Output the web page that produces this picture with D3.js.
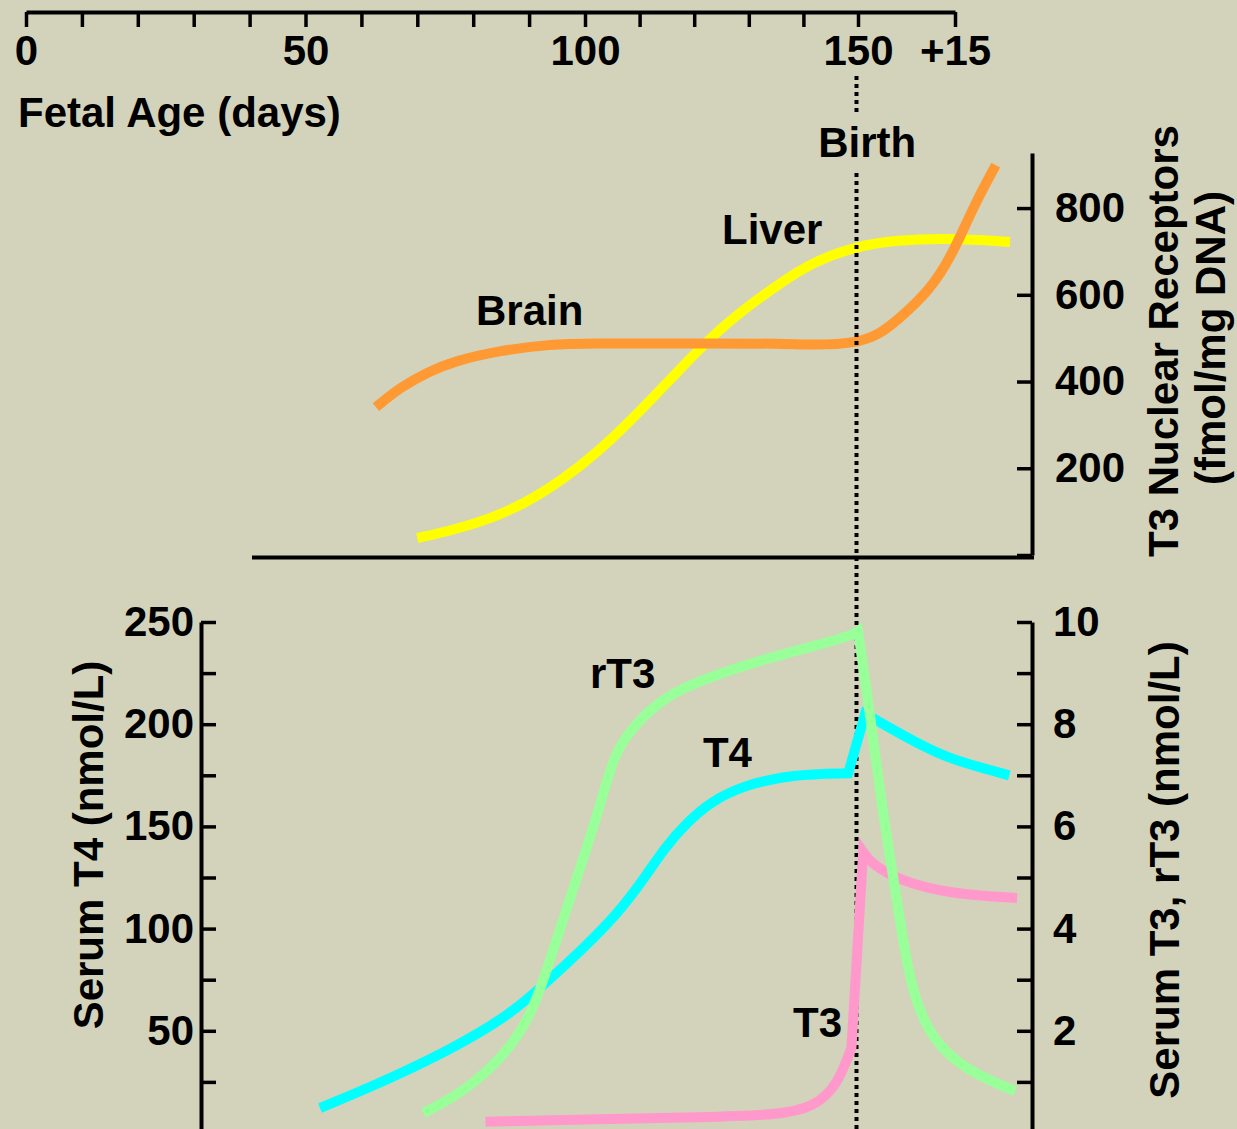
<!DOCTYPE html>
<html>
<head>
<meta charset="utf-8">
<script src="https://cdn.jsdelivr.net/npm/d3@7"></script>
<style>
  html, body { margin: 0; padding: 0; background: #d3d3bb; }
  svg { display: block; }
  text { font-family: "Liberation Sans", Arial, Helvetica, sans-serif; font-weight: bold; fill: #000; }
</style>
</head>
<body>
<svg id="chart" width="1237" height="1129"></svg>
<script>
// ---- Axis ticks ----
// Fetal age in days; 165 marks 15 days after birth (day 150)
const ageTicks = [0, 10, 20, 30, 40, 50, 60, 70, 80, 90, 100, 110, 120, 130, 140, 150, 165];
const ageTickLabels = new Map([[0, "0"], [50, "50"], [100, "100"], [150, "150"], [165, "+15"]]);
const receptorTicks = [0, 200, 400, 600, 800];
const t4Ticks = [25, 50, 75, 100, 125, 150, 175, 200, 225, 250];
const t4TickLabels = [50, 100, 150, 200, 250];
const t3Ticks = [1, 2, 3, 4, 5, 6, 7, 8, 9, 10];
const t3TickLabels = [2, 4, 6, 8, 10];

// ---- Series: [age (days), value] ----
// T3 nuclear receptors, fmol/mg DNA
const liverReceptors = [[70.0, 39], [76.6, 58], [83.3, 85], [89.4, 120], [95.8, 172], [102.2, 235],
  [110.0, 330], [116.7, 420], [125.8, 537], [135.7, 627], [141.8, 676], [149.6, 712], [156.0, 726],
  [163.8, 731], [173.5, 722]];
const brainReceptors = [[62.6, 341], [67.0, 387], [71.9, 422], [76.6, 447], [84.8, 472], [94.0, 486],
  [100.2, 488], [121.1, 488], [136.2, 488], [141.9, 484], [149.6, 488], [153.4, 510], [156.0, 540],
  [161.2, 611], [164.7, 696], [167.8, 802], [171.3, 899]];
// Serum T4, nmol/L
const serumT4 = [[52.6, 12.2], [63.8, 25], [75.8, 40.6], [86.0, 56.8], [92.0, 70.9], [99.6, 90],
  [105.9, 107], [110.7, 124], [114.7, 140], [118.7, 152], [123.0, 162], [128.9, 170], [138.0, 175.5],
  [148.2, 176], [151.1, 205], [153.6, 200.6], [158.8, 191.3], [164.0, 183], [173.4, 175]];
// Serum rT3, nmol/L
const serumRT3 = [[71.1, 0.39], [78.9, 0.84], [86.0, 1.57], [90.2, 2.27], [93.2, 3.19], [96.8, 4.42],
  [100.4, 5.6], [103.4, 6.65], [105.1, 7.3], [107.7, 7.83], [113.7, 8.47], [119.8, 8.81], [132.1, 9.26],
  [148.5, 9.71], [150.0, 9.82], [151.6, 8.45], [153.6, 6.46], [155.7, 4.81], [157.3, 3.48], [158.8, 2.62],
  [161.4, 1.84], [166.6, 1.23], [174.3, 0.82]];
// Serum T3, nmol/L
const serumT3 = [[82.2, 0.22], [102.7, 0.27], [121.1, 0.31], [135.7, 0.35], [141.9, 0.51], [146.2, 0.92],
  [148.8, 1.67], [150.8, 5.50], [152.0, 5.28], [156.2, 4.95], [164.1, 4.68], [174.6, 4.60]];

// Ages at which a curve turns sharply instead of smoothly
const sharpTurns = { t4: [148.2, 151.1], rt3: [150.0], t3: [148.8, 150.8] };

const birthDay = 150;

// ---- Layout ----
const svg = d3.select("#chart");
const x = d3.scaleLinear().domain([0, 100, 150, 165]).range([26, 585, 858, 955]);
const yRec = d3.scaleLinear().domain([0, 927]).range([555, 153]);
const yT4 = d3.scaleLinear().domain([0, 250]).range([1133, 622]);
const yT3 = d3.scaleLinear().domain([0, 10]).range([1133, 622]);

const FONT = 42;

function styleAxis(g) {
  g.attr("font-size", null).attr("font-family", null);
  g.selectAll("text").style("font-size", FONT + "px");
  g.select(".domain").attr("stroke", "#000").attr("stroke-width", 4);
  g.selectAll(".tick line").attr("stroke", "#000").attr("stroke-width", 3.5);
}

// Top age axis
svg.append("g")
  .attr("transform", "translate(0,12)")
  .call(d3.axisBottom(x).tickValues(ageTicks).tickSize(15).tickSizeOuter(0).tickPadding(8)
    .tickFormat(d => ageTickLabels.get(d) || ""))
  .call(styleAxis);

svg.append("text").attr("x", 18).attr("y", 127).style("font-size", FONT + "px").text("Fetal Age (days)");

// ---- Curve drawing: smooth pieces joined at sharp turns ----
function curvePath(points, xs, ys, turns) {
  const line = d3.line().x(d => xs(d[0])).y(d => ys(d[1])).curve(d3.curveBasis);
  const pieces = [];
  let cur = [];
  points.forEach(p => {
    cur.push(p);
    if (turns && turns.includes(p[0])) { pieces.push(cur); cur = [p]; }
  });
  if (cur.length > 1) pieces.push(cur);
  return pieces.map((pc, i) => {
    const d = line(pc);
    return i === 0 ? d : d.slice(d.search(/[LC]/));
  }).join("");
}

function drawCurve(points, ys, color, turns) {
  svg.append("path")
    .attr("d", curvePath(points, x, ys, turns))
    .attr("fill", "none")
    .attr("stroke", color)
    .attr("stroke-width", 10)
    .attr("stroke-linejoin", "miter")
    .attr("stroke-linecap", "butt");
}

// ---- Upper panel: nuclear receptors ----
svg.append("g")
  .attr("transform", "translate(1032,0)")
  .call(d3.axisRight(yRec).tickValues(receptorTicks).tickSize(-15).tickSizeOuter(0).tickPadding(23)
    .tickFormat(d => d === 0 ? "" : d))
  .call(styleAxis);

svg.append("path")
  .attr("d", d3.line()([[252, yRec(0) + 2.5], [1034, yRec(0) + 2.5]]))
  .attr("stroke", "#000").attr("stroke-width", 4);

drawCurve(liverReceptors, yRec, "#ffff00");
drawCurve(brainReceptors, yRec, "#ff9933");

svg.append("text").attr("x", x(80.5)).attr("y", yRec(530)).style("font-size", FONT + "px").text("Brain");
svg.append("text").attr("x", x(125.1)).attr("y", yRec(717)).style("font-size", FONT + "px").text("Liver");

svg.append("text")
  .attr("transform", "translate(1178,341) rotate(-90)")
  .attr("text-anchor", "middle").style("font-size", FONT + "px")
  .text("T3 Nuclear Receptors");
svg.append("text")
  .attr("transform", "translate(1225,338) rotate(-90)")
  .attr("text-anchor", "middle").style("font-size", FONT + "px")
  .text("(fmol/mg DNA)");

// ---- Birth marker ----
svg.append("text").attr("x", x(142.7)).attr("y", 157).style("font-size", FONT + "px").text("Birth");
[[76, 113], [173, 1129]].forEach(([a, b]) => {
  svg.append("line")
    .attr("x1", x(birthDay) - 1.5).attr("x2", x(birthDay) - 1.5)
    .attr("y1", a).attr("y2", b)
    .attr("stroke", "#000").attr("stroke-width", 4)
    .attr("stroke-dasharray", "4,4");
});

// ---- Lower panel: serum hormones ----
svg.append("g")
  .attr("transform", "translate(201,0)")
  .call(d3.axisLeft(yT4).tickValues(t4Ticks).tickSize(-15).tickSizeOuter(0).tickPadding(7)
    .tickFormat(d => t4TickLabels.includes(d) ? d : ""))
  .call(styleAxis);

svg.append("g")
  .attr("transform", "translate(1032,0)")
  .call(d3.axisRight(yT3).tickValues(t3Ticks).tickSize(-15).tickSizeOuter(0).tickPadding(21)
    .tickFormat(d => t3TickLabels.includes(d) ? d : ""))
  .call(styleAxis);

drawCurve(serumT4, yT4, "#00ffff", sharpTurns.t4);
drawCurve(serumT3, yT3, "#ff99cc", sharpTurns.t3);
drawCurve(serumRT3, yT3, "#99ff99", sharpTurns.rt3);

svg.append("text").attr("x", x(100.9)).attr("y", yT3(8.71)).style("font-size", FONT + "px").text("rT3");
svg.append("text").attr("x", x(121.6)).attr("y", yT3(7.16)).style("font-size", FONT + "px").text("T4");
svg.append("text").attr("x", x(138.1)).attr("y", yT3(1.88)).style("font-size", FONT + "px").text("T3");

svg.append("text")
  .attr("transform", "translate(103,845) rotate(-90)")
  .attr("text-anchor", "middle").style("font-size", FONT + "px")
  .text("Serum T4 (nmol/L)");
svg.append("text")
  .attr("transform", "translate(1179,870) rotate(-90)")
  .attr("text-anchor", "middle").style("font-size", FONT + "px")
  .text("Serum T3, rT3 (nmol/L)");
</script>
</body>
</html>
